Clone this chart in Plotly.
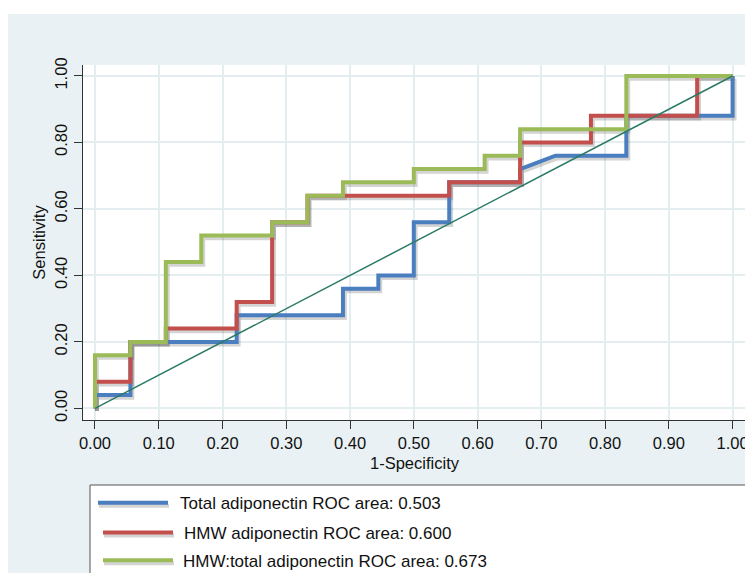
import plotly.graph_objects as go

# ---- data ----
total_fpr = [0, 0, 0.0556, 0.0556, 0.2222, 0.2222, 0.3889, 0.3889, 0.4444, 0.4444, 0.5, 0.5,
             0.5556, 0.5556, 0.6667, 0.6667, 0.7222, 0.8333, 0.8333, 1, 1]
total_tpr = [0, 0.04, 0.04, 0.20, 0.20, 0.28, 0.28, 0.36, 0.36, 0.40, 0.40, 0.56,
             0.56, 0.68, 0.68, 0.72, 0.76, 0.76, 0.88, 0.88, 1.0]

hmw_fpr = [0, 0, 0.0556, 0.0556, 0.1111, 0.1111, 0.2222, 0.2222, 0.2778, 0.2778, 0.3333, 0.3333,
           0.5556, 0.5556, 0.6667, 0.6667, 0.7778, 0.7778, 0.9444, 0.9444, 1]
hmw_tpr = [0, 0.08, 0.08, 0.20, 0.20, 0.24, 0.24, 0.32, 0.32, 0.56, 0.56, 0.64,
           0.64, 0.68, 0.68, 0.80, 0.80, 0.88, 0.88, 1.0, 1.0]

ratio_fpr = [0, 0, 0.0556, 0.0556, 0.1111, 0.1111, 0.1667, 0.1667, 0.2778, 0.2778, 0.3333, 0.3333,
             0.3889, 0.3889, 0.5, 0.5, 0.6111, 0.6111, 0.6667, 0.6667, 0.8333, 0.8333, 1]
ratio_tpr = [0, 0.16, 0.16, 0.20, 0.20, 0.44, 0.44, 0.52, 0.52, 0.56, 0.56, 0.64,
             0.64, 0.68, 0.68, 0.72, 0.72, 0.76, 0.76, 0.84, 0.84, 1.0, 1.0]

series_names = ["Total adiponectin ROC area: 0.503",
                "HMW adiponectin ROC area: 0.600",
                "HMW:total adiponectin ROC area: 0.673"]
series_colors = ["#4a7ebf", "#c24f4c", "#9bbb59"]
ref_line = [0, 1]

x_ticks = [0, 0.1, 0.2, 0.3, 0.4, 0.5, 0.6, 0.7, 0.8, 0.9, 1.0]
y_ticks = [0, 0.2, 0.4, 0.6, 0.8, 1.0]

# ---- figure ----
# page body has an 8px margin; figure fills the rest of the 753x573 window
OFF = 8
W, H = 753 - OFF, 573 - OFF
ML, MR, MT, MB = 75, 7, 57, 153
PW, PH = W - ML - MR, H - MT - MB


def px_x(p):  # screenshot pixel -> paper x
    return (p - OFF - ML) / PW


def px_y(p):  # screenshot pixel -> paper y
    return (H - MB - (p - OFF)) / PH


fig = go.Figure()
curves = [(total_fpr, total_tpr), (hmw_fpr, hmw_tpr), (ratio_fpr, ratio_tpr)]

# soft drop shadows under the curves
for fx, ty in curves:
    fig.add_trace(go.Scatter(x=[v + 0.003 for v in fx], y=[v - 0.008 for v in ty],
                             mode="lines", line=dict(color="rgba(60,60,60,0.22)", width=4),
                             hoverinfo="skip", showlegend=False))

for (fx, ty), name, col in zip(curves, series_names, series_colors):
    fig.add_trace(go.Scatter(x=fx, y=ty, mode="lines", name=name, showlegend=False,
                             line=dict(color=col, width=4)))

fig.add_trace(go.Scatter(x=ref_line, y=ref_line, mode="lines",
                         line=dict(color="#2a7a66", width=1.5), showlegend=False,
                         hoverinfo="skip"))

axis_font = dict(family="Liberation Sans, Arial, sans-serif", size=16.5, color="#111")
fig.update_xaxes(range=[-0.0188, 1.021], tickvals=x_ticks,
                 ticktext=[f"{v:.2f}" for v in x_ticks], tickfont=axis_font,
                 ticks="outside", ticklen=8, tickcolor="#333", showline=True,
                 linecolor="#333", linewidth=1.2, showgrid=True, gridcolor="#e4edf0",
                 gridwidth=1.5, zeroline=False,
                 title=dict(text="1-Specificity", font=axis_font, standoff=6))
fig.update_yaxes(range=[-0.035, 1.033], tickvals=y_ticks,
                 ticktext=[f"{v:.2f}" for v in y_ticks], tickfont=axis_font, tickangle=-90,
                 ticks="outside", ticklen=8, tickcolor="#333", showline=True,
                 linecolor="#333", linewidth=1.2, showgrid=True, gridcolor="#e4edf0",
                 gridwidth=1.5, zeroline=False,
                 title=dict(text="Sensitivity", font=axis_font, standoff=2))

shapes = [
    # thin white strip at the top of the light panel
    dict(type="rect", xref="paper", yref="paper", x0=px_x(0), x1=px_x(760),
         y0=px_y(14), y1=px_y(0), fillcolor="white", line=dict(width=0), layer="below"),
    # legend box
    dict(type="rect", xref="paper", yref="paper", x0=px_x(90), x1=px_x(780),
         y0=px_y(485), y1=px_y(600), fillcolor="white",
         line=dict(color="#555", width=1), layer="below"),
]
annotations = []
legend_rows = [502.7, 532.5, 560.3]
legend_x0 = [98, 103, 103]
legend_tx = [178, 182, 181]
legend_font = dict(family="Liberation Sans, Arial, sans-serif", size=17, color="#111")
for yy, x0, tx, col, name in zip(legend_rows, legend_x0, legend_tx, series_colors, series_names):
    shapes.append(dict(type="line", xref="paper", yref="paper", x0=px_x(x0 + 1), x1=px_x(x0 + 71),
                       y0=px_y(yy + 3), y1=px_y(yy + 3),
                       line=dict(color="rgba(60,60,60,0.22)", width=4), layer="above"))
    shapes.append(dict(type="line", xref="paper", yref="paper", x0=px_x(x0), x1=px_x(x0 + 70),
                       y0=px_y(yy), y1=px_y(yy), line=dict(color=col, width=4), layer="above"))
    annotations.append(dict(xref="paper", yref="paper", x=px_x(tx), y=px_y(yy + 1),
                            xanchor="left", yanchor="middle", text=name, showarrow=False,
                            font=legend_font))

fig.update_layout(
    width=W, height=H,
    margin=dict(l=ML, r=MR, t=MT, b=MB, autoexpand=False),
    paper_bgcolor="#e9f1f4", plot_bgcolor="white",
    font=axis_font,
    shapes=shapes,
    annotations=annotations,
    showlegend=False,
)

fig.write_html("out.html")
